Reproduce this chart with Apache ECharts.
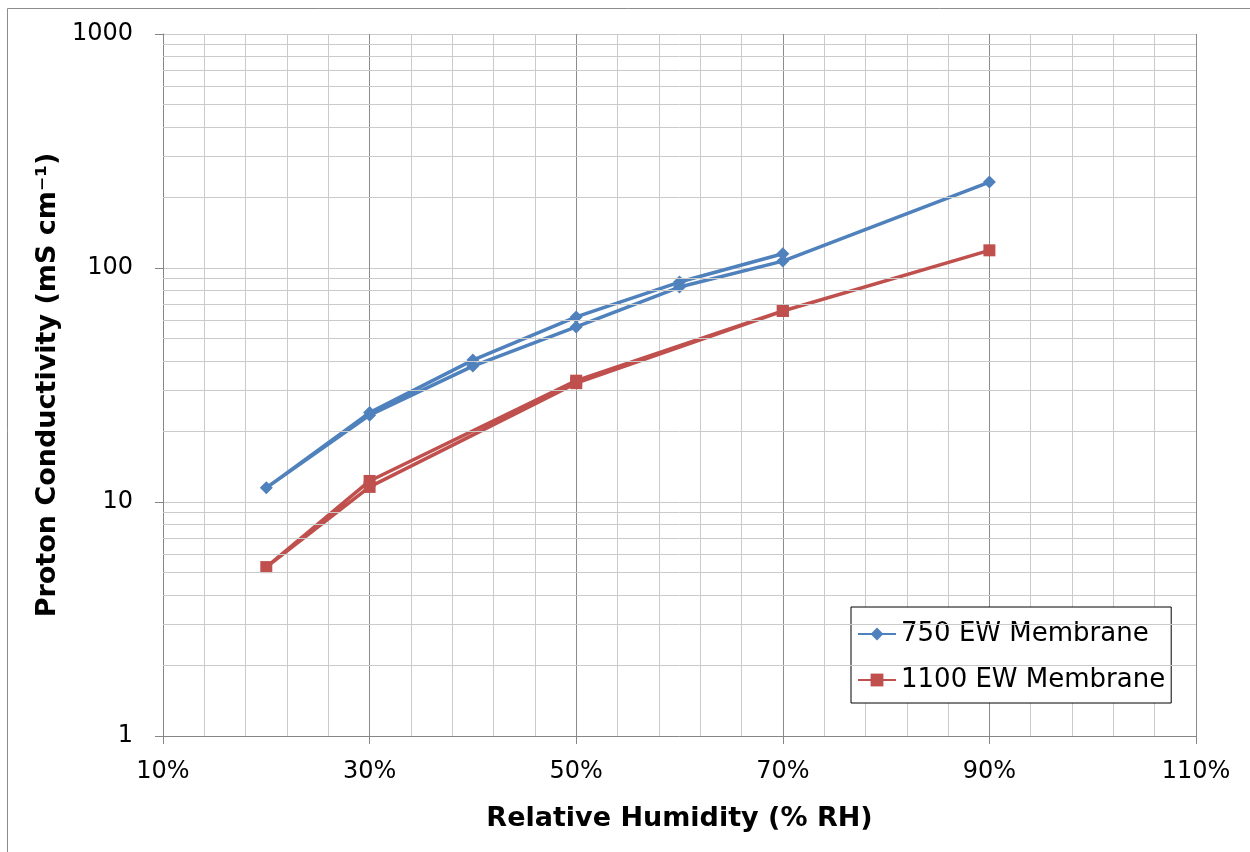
<!DOCTYPE html>
<html>
<head>
<meta charset="utf-8">
<script src="https://cdn.jsdelivr.net/npm/echarts@6/dist/echarts.min.js"></script>
<style>
html,body{margin:0;padding:0;background:#fff;}
#chart{width:1250px;height:852px;}
</style>
</head>
<body>
<div id="chart"></div>
<script>
// ---- data ----
const seriesNames = ['750 EW Membrane', '1100 EW Membrane'];
// measurement path: upper branch 70 -> 20, then lower branch 20 -> 90
const rh750 = [70, 60, 50, 40, 30, 20, 30, 40, 50, 60, 70, 90];
const cond750 = [115, 87.1, 61.8, 40.4, 24.1, 11.5, 23.5, 38.1, 56.0, 82.9, 107, 233];
const rh1100 = [70, 50, 30, 20, 30, 50, 70, 90];
const cond1100 = [65.5, 33.0, 12.3, 5.27, 11.6, 32.2, 65.5, 119];
const yMinorGrid = [2, 3, 4, 5, 6, 7, 8, 9, 20, 30, 40, 50, 60, 70, 80, 90, 200, 300, 400, 500, 600, 700, 800, 900];
const xTicks = [10, 30, 50, 70, 90, 110];

const FONT = 'DejaVu Sans';
const pairs = (xs, ys) => xs.map((x, i) => [x, ys[i]]);

const chart = echarts.init(document.getElementById('chart'), null, {renderer: 'canvas'});
chart.setOption({
  animation: false,
  backgroundColor: '#fff',
  textStyle: {fontFamily: FONT},
  graphic: [
    {type: 'line', shape: {x1: 7.5, y1: 8.5, x2: 1250, y2: 8.5}, style: {stroke: '#8c8c8c', lineWidth: 1}},
    {type: 'line', shape: {x1: 7.5, y1: 8.5, x2: 7.5, y2: 852}, style: {stroke: '#8c8c8c', lineWidth: 1}}
  ],
  grid: {left: 163, right: 54, top: 34, bottom: 116, containLabel: false},
  legend: {
    data: seriesNames,
    orient: 'vertical',
    left: 851, top: 607,
    padding: [14, 6, 10, 6],
    itemGap: 20,
    itemWidth: 38, itemHeight: 16,
    backgroundColor: '#fff',
    borderColor: '#000', borderWidth: 1,
    textStyle: {fontFamily: FONT, fontSize: 26, color: '#000'}
  },
  xAxis: {
    type: 'value',
    min: xTicks[0], max: xTicks[xTicks.length - 1], interval: 20,
    name: 'Relative Humidity (% RH)',
    nameLocation: 'middle',
    nameGap: 69,
    nameTextStyle: {fontFamily: FONT, fontSize: 27, fontWeight: 'bold', color: '#000'},
    axisLine: {show: true, lineStyle: {color: '#868686', width: 1}},
    axisTick: {show: true, length: 8, lineStyle: {color: '#868686'}},
    axisLabel: {margin: 24, fontSize: 24, color: '#000', fontFamily: FONT, formatter: v => v + '%'},
    splitLine: {show: true, lineStyle: {color: '#8c8c8c', width: 1}},
    minorTick: {show: false, splitNumber: 5},
    minorSplitLine: {show: true, lineStyle: {color: '#cacaca', width: 1}}
  },
  yAxis: {
    type: 'log', logBase: 10,
    min: 1, max: 1000,
    name: 'Proton Conductivity (mS cm⁻¹)',
    nameLocation: 'middle',
    nameGap: 89,
    nameTextStyle: {fontFamily: FONT, fontSize: 27, fontWeight: 'bold', color: '#000'},
    axisLine: {show: true, lineStyle: {color: '#868686', width: 1}},
    axisTick: {show: true, length: 8, lineStyle: {color: '#868686'}},
    axisLabel: {margin: 30, fontSize: 24, color: '#000', fontFamily: FONT, formatter: v => String(v)},
    splitLine: {show: true, lineStyle: {color: '#cacaca', width: 1}}
  },
  series: [
    {
      name: 'minor-grid', type: 'line', data: [], z: 1, silent: true,
      markLine: {
        silent: true, symbol: ['none', 'none'], animation: false,
        label: {show: false},
        lineStyle: {color: '#cacaca', type: 'solid', width: 1},
        emphasis: {disabled: true},
        data: yMinorGrid.map(v => ({yAxis: v}))
      }
    },
    {
      name: seriesNames[0], type: 'line', z: 3,
      data: pairs(rh750, cond750),
      symbol: 'diamond', symbolSize: 13,
      lineStyle: {color: '#4F81BD', width: 3.5},
      itemStyle: {color: '#4F81BD'},
      emphasis: {disabled: true}
    },
    {
      name: seriesNames[1], type: 'line', z: 3,
      data: pairs(rh1100, cond1100),
      symbol: 'rect', symbolSize: 12,
      lineStyle: {color: '#C0504D', width: 3.5},
      itemStyle: {color: '#C0504D'},
      emphasis: {disabled: true}
    }
  ]
});
</script>
</body>
</html>
